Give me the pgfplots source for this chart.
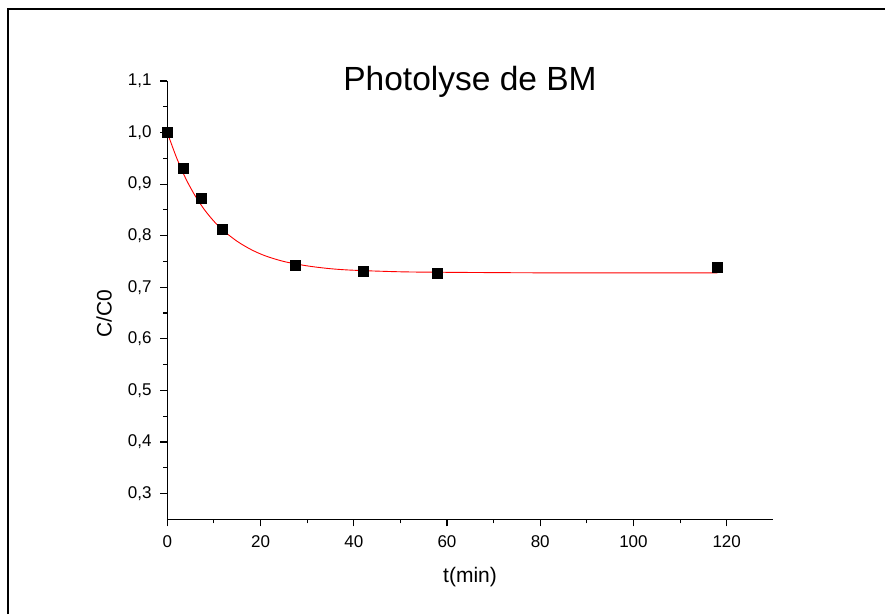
\documentclass[border=0pt]{standalone}
\usepackage{pgfplots}
\pgfplotsset{compat=1.18}
\usepackage{fontspec}
\setmainfont{Liberation Sans}
\begin{document}
\begin{tikzpicture}[x=1pt,y=1pt]
\useasboundingbox (0,0) rectangle (885,614);
\fill[white] (0,0) rectangle (885,614);
\draw[line width=1.2pt] (8,0) -- (8,605) -- (885,605);
\begin{axis}[
  at={(167.3pt,94.7pt)}, anchor=south west,
  scale only axis, width=606pt, height=438.3pt,
  xmin=0, xmax=130, ymin=0.25, ymax=1.1,
  axis lines*=left,
  axis line style={line width=1.3pt},
  tick align=outside,
  xtick={0,20,...,120},
  ytick={0.3,0.4,0.5,0.6,0.7,0.8,0.9,1.0,1.1},
  minor x tick num=1, minor y tick num=1,
  major tick length=7pt, minor tick length=4pt,
  every tick/.style={line width=1.1pt, black},
  tick label style={font=\fontsize{17}{19}\selectfont, black, inner sep=0pt},
  xticklabel style={anchor=north, yshift=-9pt},
  yticklabel style={anchor=east, xshift=-8.5pt},
  /pgf/number format/assume math mode=true,
  xticklabel style={/pgf/number format/fixed, /pgf/number format/1000 sep={}},
  yticklabel style={/pgf/number format/fixed, /pgf/number format/fixed zerofill,
     /pgf/number format/precision=1, /pgf/number format/use comma},
  clip=false,
]
\addplot[red, line width=0.9pt, smooth, no marks] coordinates {
 (0,1.000) (2,0.951) (4,0.910) (6,0.877) (8,0.850) (10,0.828) (12,0.810)
 (15,0.789) (18,0.773) (21,0.761) (25,0.750) (30,0.7415) (35,0.736)
 (40,0.733) (50,0.730) (60,0.729) (80,0.728) (100,0.728) (118,0.728)
};
\addplot[only marks, mark=square*, mark size=5pt, black] coordinates {
 (0,1.000) (3.4,0.930) (7.3,0.873) (11.8,0.813) (27.5,0.742)
 (42,0.732) (58,0.728) (118,0.739)
};
\end{axis}
\node[anchor=base, inner sep=0pt, font=\fontsize{33.5}{38}\selectfont] at (470,523) {Photolyse de BM};
\node[anchor=base, inner sep=0pt, font=\fontsize{21}{24}\selectfont] at (470,31.3) {t(min)};
\node[rotate=90, inner sep=0pt, font=\fontsize{21}{24}\selectfont] at (104,300.5) {C/C0};
\end{tikzpicture}
\end{document}
